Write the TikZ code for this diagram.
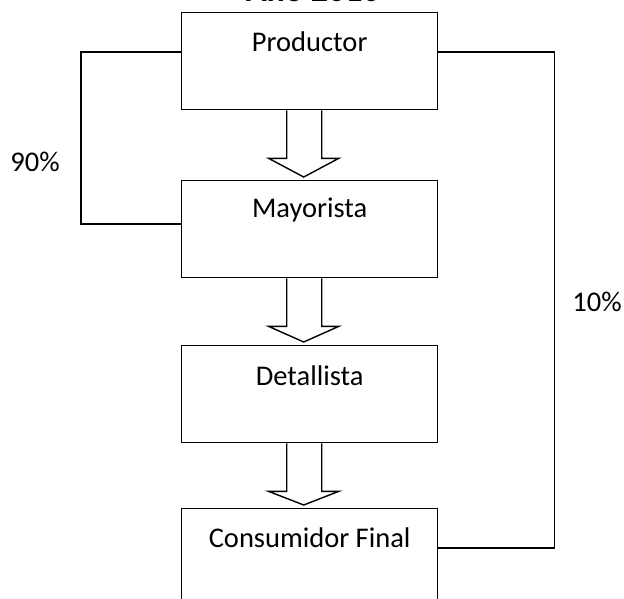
\documentclass[tikz,border=0pt]{standalone}
\usepackage{fontspec}
\setmainfont{Carlito}
\usetikzlibrary{calc}
\newcommand{\blockarrow}[2]{%
  \draw[blk] ($(#1.south)+(-23,0)$) -- ($(#1.south)+(-23,48)$) -- ($(#1.south)+(-41,48)$)
    -- ($(#2.north)+(-6,-3)$) -- ($(#1.south)+(29,48)$) -- ($(#1.south)+(12,48)$) -- ($(#1.south)+(12,0)$);}
\begin{document}
\begin{tikzpicture}[x=1pt,y=-1pt,
  box/.style={draw, line width=1.4pt, minimum width=256pt, minimum height=97pt, inner sep=0pt, anchor=north west},
  lbl/.style={font=\fontsize{28.5}{30}\selectfont, inner sep=0pt},
  conn/.style={draw, line width=1.4pt},
  blk/.style={draw, line width=1.4pt, line join=miter}]
\useasboundingbox (0,0) rectangle (624,599);
\fill[white] (0,0) rectangle (624,599);
\clip (0,0) rectangle (624,599);
\node[lbl, font=\bfseries\fontsize{34}{36}\selectfont, anchor=base] (title) at (313,1.5) {Año 2010};
\node[box] (P) at (181,12) {};
\node[box] (M) at (181,180) {};
\node[box] (D) at (181,345) {};
\node[box] (C) at (181,508) {};
\node[lbl] (tP) at ($(P.north)+(0,30)$) {Productor};
\node[lbl] (tM) at ($(M.north)+(0,30)$) {Mayorista};
\node[lbl] (tD) at ($(D.north)+(0,31)$) {Detallista};
\node[lbl] (tC) at ($(C.north)+(0,30)$) {Consumidor Final};
\blockarrow{P}{M}
\blockarrow{M}{D}
\blockarrow{D}{C}
\draw[conn] ($(P.north west)+(0,40)$) -- ++(-100,0) |- ($(M.north west)+(0,44)$);
\draw[conn] ($(P.north east)+(0,40)$) -- ++(116,0) |- ($(C.north east)+(0,40)$);
\node[lbl] (p90) at (35,162) {90\%};
\node[lbl] (p10) at (597,302) {10\%};
\end{tikzpicture}
\end{document}
